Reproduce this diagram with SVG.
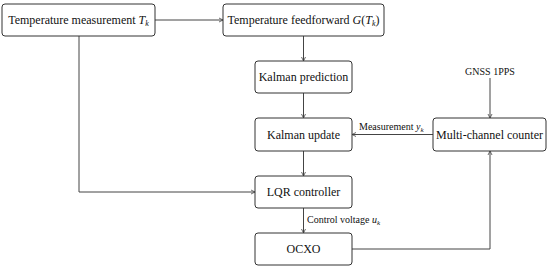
<svg xmlns="http://www.w3.org/2000/svg" width="550" height="269" viewBox="0 0 550 269">
<style>
.box{fill:#fff;stroke:#333;stroke-width:1}
.t{font-family:"Liberation Serif","DejaVu Serif",serif;font-size:12px;fill:#111;text-anchor:middle}
.s{font-family:"Liberation Serif","DejaVu Serif",serif;font-size:10px;fill:#111}
.c{fill:none;stroke:#444;stroke-width:1}
</style>
<defs>
<marker id="a" markerWidth="6" markerHeight="6" refX="5" refY="3" orient="auto" markerUnits="userSpaceOnUse">
<path d="M1,1 L5,3 L1,5" fill="none" stroke="#444" stroke-width="0.8"/>
</marker>
</defs>
<g id="connectors">
<path class="c" d="M155,20 H223" marker-end="url(#a)"/>
<path class="c" d="M303.5,36 V61" marker-end="url(#a)"/>
<path class="c" d="M303.5,93 V118" marker-end="url(#a)"/>
<path class="c" d="M303.5,151 V176" marker-end="url(#a)"/>
<path class="c" d="M303.5,208 V233" marker-end="url(#a)"/>
<path class="c" d="M79,36 V192 H255" marker-end="url(#a)"/>
<path class="c" d="M433,134.5 H352" marker-end="url(#a)"/>
<path class="c" d="M490,78 V118" marker-end="url(#a)"/>
<path class="c" d="M352,249 H490 V151" marker-end="url(#a)"/>
<text class="s" x="359" y="130">Measurement <tspan font-style="italic">y</tspan><tspan font-style="italic" font-size="7" dy="2">k</tspan></text>
<text class="s" x="307" y="223">Control voltage <tspan font-style="italic">u</tspan><tspan font-style="italic" font-size="7" dy="2">k</tspan></text>
<text class="s" x="490" y="75" text-anchor="middle">GNSS 1PPS</text>
</g>
<g id="n1"><rect class="box" x="2" y="4" width="153" height="32" rx="3"/><text class="t" x="78.5" y="24">Temperature measurement <tspan font-style="italic">T</tspan><tspan font-style="italic" font-size="8" dy="2">k</tspan></text></g>
<g id="n2"><rect class="box" x="223" y="4" width="161" height="32" rx="3"/><text class="t" x="303.5" y="24">Temperature feedforward <tspan font-style="italic">G</tspan>(<tspan font-style="italic">T</tspan><tspan font-style="italic" font-size="8" dy="2">k</tspan><tspan dy="-2">)</tspan></text></g>
<g id="n3"><rect class="box" x="255" y="61" width="97" height="32" rx="3"/><text class="t" x="303.5" y="81">Kalman prediction</text></g>
<g id="n4"><rect class="box" x="255" y="118" width="97" height="33" rx="3"/><text class="t" x="303.5" y="138.5">Kalman update</text></g>
<g id="n5"><rect class="box" x="433" y="118" width="113" height="33" rx="3"/><text class="t" x="489.5" y="138.5">Multi-channel counter</text></g>
<g id="n6"><rect class="box" x="255" y="176" width="97" height="32" rx="3"/><text class="t" x="303.5" y="196">LQR controller</text></g>
<g id="n7"><rect class="box" x="255" y="233" width="97" height="32" rx="3"/><text class="t" x="303.5" y="253">OCXO</text></g>
</svg>
